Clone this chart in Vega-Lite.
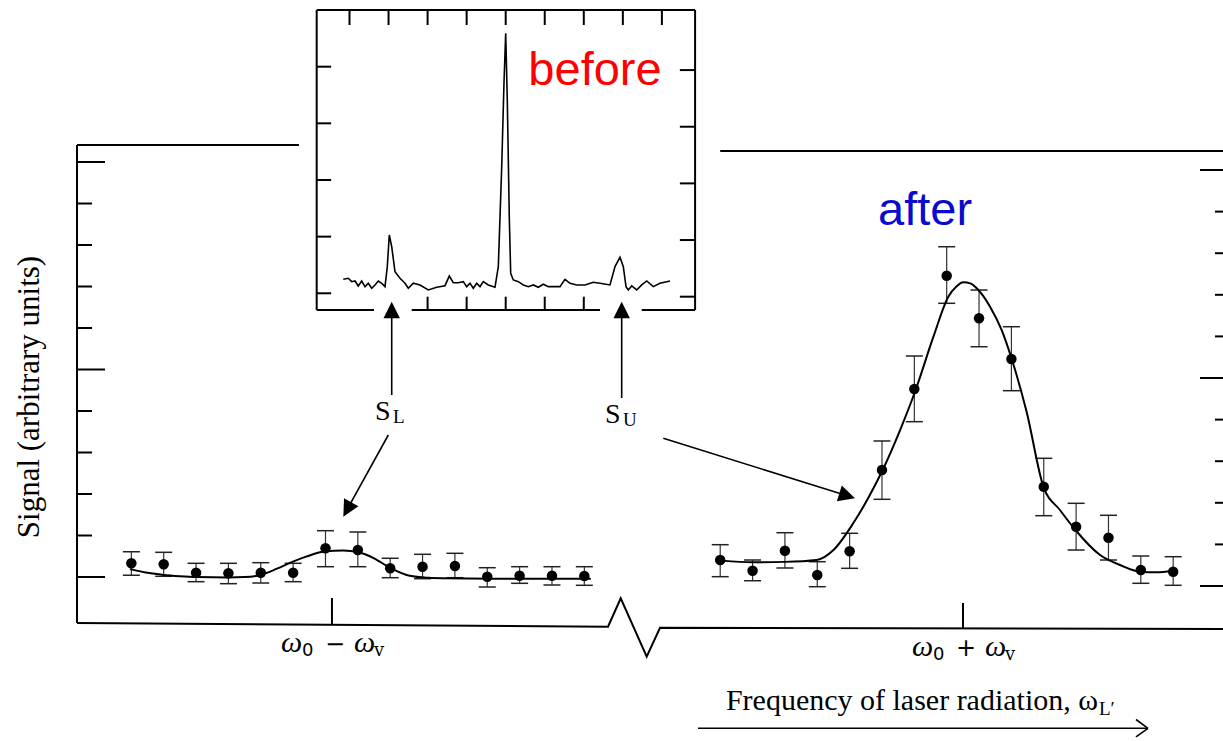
{
  "$schema": "https://vega.github.io/schema/vega-lite/v6.json",
  "width": 1223,
  "height": 741,
  "autosize": {"type": "none"},
  "padding": 0,
  "background": "white",
  "config": {"view": {"stroke": null}},
  "datasets": {
    "leftPoints": [
      {"x": -6.2, "y": 0.330, "hi": 0.610, "lo": 0.041},
      {"x": -5.2, "y": 0.306, "hi": 0.595, "lo": 0.017},
      {"x": -4.2, "y": 0.104, "hi": 0.330, "lo": -0.113},
      {"x": -3.2, "y": 0.089, "hi": 0.330, "lo": -0.161},
      {"x": -2.2, "y": 0.104, "hi": 0.345, "lo": -0.145},
      {"x": -1.2, "y": 0.104, "hi": 0.330, "lo": -0.113},
      {"x": -0.2, "y": 0.692, "hi": 1.116, "lo": 0.248},
      {"x": 0.8, "y": 0.651, "hi": 1.084, "lo": 0.248},
      {"x": 1.8, "y": 0.210, "hi": 0.451, "lo": -0.017},
      {"x": 2.8, "y": 0.248, "hi": 0.547, "lo": -0.041},
      {"x": 3.8, "y": 0.265, "hi": 0.571, "lo": -0.017},
      {"x": 4.8, "y": 0.007, "hi": 0.224, "lo": -0.241},
      {"x": 5.8, "y": 0.031, "hi": 0.248, "lo": -0.152},
      {"x": 6.8, "y": 0.031, "hi": 0.248, "lo": -0.193},
      {"x": 7.8, "y": 0.024, "hi": 0.248, "lo": -0.200}
    ],
    "rightPoints": [
      {"x": 12, "y": 0.625, "hi": 0.993, "lo": 0.224},
      {"x": 13, "y": 0.368, "hi": 0.625, "lo": 0.127},
      {"x": 14, "y": 0.849, "hi": 1.281, "lo": 0.433},
      {"x": 15, "y": 0.264, "hi": 0.584, "lo": -0.017},
      {"x": 16, "y": 0.834, "hi": 1.267, "lo": 0.425},
      {"x": 17, "y": 2.788, "hi": 3.486, "lo": 2.084},
      {"x": 18, "y": 4.736, "hi": 5.529, "lo": 3.950},
      {"x": 19, "y": 7.459, "hi": 8.156, "lo": 6.796},
      {"x": 20, "y": 6.435, "hi": 7.115, "lo": 5.752},
      {"x": 21, "y": 5.457, "hi": 6.233, "lo": 4.695},
      {"x": 22, "y": 2.387, "hi": 3.070, "lo": 1.690},
      {"x": 23, "y": 1.425, "hi": 1.988, "lo": 0.865},
      {"x": 24, "y": 1.161, "hi": 1.700, "lo": 0.625},
      {"x": 25, "y": 0.385, "hi": 0.721, "lo": 0.065},
      {"x": 26, "y": 0.344, "hi": 0.704, "lo": 0.017}
    ],
    "leftFit": [
      {"x": -6.24, "y": 0.19}, {"x": -5.7, "y": 0.10}, {"x": -5.2, "y": 0.05},
      {"x": -4.7, "y": 0.02}, {"x": -4.2, "y": 0.0}, {"x": -3.2, "y": -0.01},
      {"x": -2.7, "y": 0.0}, {"x": -2.2, "y": 0.05}, {"x": -1.7, "y": 0.20},
      {"x": -1.3, "y": 0.34}, {"x": -0.8, "y": 0.49}, {"x": -0.2, "y": 0.62},
      {"x": 0.35, "y": 0.64}, {"x": 0.8, "y": 0.60}, {"x": 1.3, "y": 0.45},
      {"x": 1.8, "y": 0.22}, {"x": 2.4, "y": 0.03}, {"x": 3.0, "y": -0.02},
      {"x": 3.4, "y": -0.03}, {"x": 5.0, "y": -0.04}, {"x": 8.0, "y": -0.04}
    ],
    "rightFit": [
      {"x": 12.05, "y": 0.61}, {"x": 13.0, "y": 0.57}, {"x": 14.0, "y": 0.58},
      {"x": 14.98, "y": 0.625}, {"x": 15.5, "y": 0.865}, {"x": 16.11, "y": 1.507},
      {"x": 16.6, "y": 2.15}, {"x": 17.02, "y": 2.788}, {"x": 17.56, "y": 3.75},
      {"x": 18.04, "y": 4.712}, {"x": 18.59, "y": 5.993}, {"x": 19.05, "y": 6.954},
      {"x": 19.3, "y": 7.2}, {"x": 19.51, "y": 7.30}, {"x": 19.75, "y": 7.27},
      {"x": 19.93, "y": 7.156}, {"x": 20.34, "y": 6.714}, {"x": 20.7, "y": 6.15},
      {"x": 21.01, "y": 5.457}, {"x": 21.47, "y": 4.19}, {"x": 21.99, "y": 2.387},
      {"x": 22.5, "y": 1.827}, {"x": 22.98, "y": 1.346}, {"x": 23.74, "y": 0.745},
      {"x": 24.36, "y": 0.505}, {"x": 24.98, "y": 0.344}, {"x": 25.5, "y": 0.33},
      {"x": 25.96, "y": 0.368}
    ],
    "insetTrace": [
      {"x": -4.159, "y": 0.247}, {"x": -4.031, "y": 0.265}, {"x": -3.944, "y": 0.205},
      {"x": -3.859, "y": 0.217}, {"x": -3.775, "y": 0.129}, {"x": -3.688, "y": 0.217},
      {"x": -3.603, "y": 0.117}, {"x": -3.518, "y": 0.177}, {"x": -3.432, "y": 0.088},
      {"x": -3.347, "y": 0.147}, {"x": -3.262, "y": 0.217}, {"x": -3.175, "y": 0.177},
      {"x": -3.091, "y": 0.117}, {"x": -3.032, "y": 0.470}, {"x": -2.981, "y": 1.029},
      {"x": -2.919, "y": 0.823}, {"x": -2.835, "y": 0.381}, {"x": -2.707, "y": 0.265},
      {"x": -2.579, "y": 0.177}, {"x": -2.494, "y": 0.088}, {"x": -2.366, "y": 0.177},
      {"x": -2.195, "y": 0.147}, {"x": -1.982, "y": 0.058}, {"x": -1.767, "y": 0.106},
      {"x": -1.554, "y": 0.134}, {"x": -1.444, "y": 0.305}, {"x": -1.342, "y": 0.187},
      {"x": -1.214, "y": 0.187}, {"x": -1.086, "y": 0.205}, {"x": -0.999, "y": 0.117},
      {"x": -0.914, "y": 0.177}, {"x": -0.830, "y": 0.088}, {"x": -0.743, "y": 0.177},
      {"x": -0.658, "y": 0.117}, {"x": -0.574, "y": 0.205}, {"x": -0.446, "y": 0.147},
      {"x": -0.274, "y": 0.106}, {"x": -0.189, "y": 0.470}, {"x": -0.102, "y": 2.235},
      {"x": -0.044, "y": 3.707}, {"x": 0.0, "y": 4.590}, {"x": 0.041, "y": 3.412},
      {"x": 0.092, "y": 1.352}, {"x": 0.128, "y": 0.353}, {"x": 0.195, "y": 0.235},
      {"x": 0.323, "y": 0.205}, {"x": 0.451, "y": 0.147}, {"x": 0.579, "y": 0.117},
      {"x": 0.707, "y": 0.147}, {"x": 0.835, "y": 0.106}, {"x": 0.963, "y": 0.159},
      {"x": 1.091, "y": 0.117}, {"x": 1.219, "y": 0.117}, {"x": 1.390, "y": 0.117},
      {"x": 1.519, "y": 0.247}, {"x": 1.647, "y": 0.177}, {"x": 1.818, "y": 0.147},
      {"x": 2.031, "y": 0.147}, {"x": 2.243, "y": 0.194}, {"x": 2.415, "y": 0.177},
      {"x": 2.671, "y": 0.147}, {"x": 2.799, "y": 0.470}, {"x": 2.927, "y": 0.635},
      {"x": 3.012, "y": 0.470}, {"x": 3.081, "y": 0.117}, {"x": 3.140, "y": 0.058},
      {"x": 3.227, "y": 0.129}, {"x": 3.355, "y": 0.058}, {"x": 3.483, "y": 0.147},
      {"x": 3.611, "y": 0.217}, {"x": 3.780, "y": 0.117}, {"x": 3.951, "y": 0.177},
      {"x": 4.207, "y": 0.217}
    ],
    "mainFrame": [
      {"x": -7.88, "y": -1.108, "x2": -7.88, "y2": 10.41},
      {"x": -7.88, "y": 10.41, "x2": -1.02, "y2": 10.41},
      {"x": -7.88, "y": 0, "x2": -7.015, "y2": 0},
      {"x": -7.88, "y": 1, "x2": -7.416, "y2": 1},
      {"x": -7.88, "y": 2, "x2": -7.416, "y2": 2},
      {"x": -7.88, "y": 3, "x2": -7.416, "y2": 3},
      {"x": -7.88, "y": 4, "x2": -7.416, "y2": 4},
      {"x": -7.88, "y": 5, "x2": -7.015, "y2": 5},
      {"x": -7.88, "y": 6, "x2": -7.416, "y2": 6},
      {"x": -7.88, "y": 7, "x2": -7.416, "y2": 7},
      {"x": -7.88, "y": 8, "x2": -7.416, "y2": 8},
      {"x": -7.88, "y": 9, "x2": -7.416, "y2": 9},
      {"x": -7.88, "y": 10, "x2": -7.015, "y2": 10},
      {"x": 0, "y": -1.14, "x2": 0, "y2": -0.506}
    ],
    "bottomAxis": [
      {"x": -7.88, "y": -1.108}, {"x": 8.532, "y": -1.198}, {"x": 8.925, "y": -0.513},
      {"x": 9.728, "y": -1.92}, {"x": 10.139, "y": -1.222}, {"x": 27.6, "y": -1.253}
    ],
    "arrows": [
      {"name": "SLv", "x": 1.847, "y": 4.386, "x2": 1.847, "y2": 6.5},
      {"name": "SUv", "x": 8.955, "y": 4.313, "x2": 8.955, "y2": 6.5},
      {"name": "SLd", "x": 1.742, "y": 3.422, "x2": 0.45, "y2": 1.6},
      {"name": "SUd", "x": 10.242, "y": 3.342, "x2": 16.0, "y2": 1.94},
      {"name": "freq", "x": 11.314, "y": -3.646, "x2": 25.222, "y2": -3.646},
      {"name": "freq", "x": 24.851, "y": -3.434, "x2": 25.222, "y2": -3.646},
      {"name": "freq", "x": 24.851, "y": -3.855, "x2": 25.222, "y2": -3.646}
    ],
    "heads": [
      {"name": "SLv", "x": 1.847, "y": 6.634},
      {"name": "SUv", "x": 8.955, "y": 6.634},
      {"name": "SLd", "x": 0.351, "y": 1.453},
      {"name": "SUd", "x": 16.166, "y": 1.896}
    ],
    "rightFrame": [
      {"x": 12.0, "y": 10.46, "x2": 27.6, "y2": 10.46},
      {"x": 27.6, "y": 0, "x2": 26.829, "y2": 0},
      {"x": 27.6, "y": 1, "x2": 27.293, "y2": 1},
      {"x": 27.6, "y": 2, "x2": 27.293, "y2": 2},
      {"x": 27.6, "y": 3, "x2": 27.293, "y2": 3},
      {"x": 27.6, "y": 4, "x2": 27.293, "y2": 4},
      {"x": 27.6, "y": 5, "x2": 26.829, "y2": 5},
      {"x": 27.6, "y": 6, "x2": 27.293, "y2": 6},
      {"x": 27.6, "y": 7, "x2": 27.293, "y2": 7},
      {"x": 27.6, "y": 8, "x2": 27.293, "y2": 8},
      {"x": 27.6, "y": 9, "x2": 27.293, "y2": 9},
      {"x": 27.6, "y": 10, "x2": 26.829, "y2": 10},
      {"x": 19.504, "y": -1.01, "x2": 19.504, "y2": -0.409}
    ],
    "insetFrame": [
      {"x": -4.84, "y": 5.0, "x2": 4.85, "y2": 5.0},
      {"x": -4.84, "y": -0.295, "x2": -4.84, "y2": 5.0},
      {"x": 4.85, "y": -0.295, "x2": 4.85, "y2": 5.0},
      {"x": -4.84, "y": -0.295, "x2": -3.373, "y2": -0.295},
      {"x": -2.407, "y": -0.295, "x2": 2.415, "y2": -0.295},
      {"x": 3.483, "y": -0.295, "x2": 4.85, "y2": -0.295},
      {"x": -4, "y": 5.0, "x2": -4, "y2": 4.736},
      {"x": -3, "y": 5.0, "x2": -3, "y2": 4.736},
      {"x": -2, "y": 5.0, "x2": -2, "y2": 4.736},
      {"x": -1, "y": 5.0, "x2": -1, "y2": 4.736},
      {"x": 0, "y": 5.0, "x2": 0, "y2": 4.736},
      {"x": 1, "y": 5.0, "x2": 1, "y2": 4.736},
      {"x": 2, "y": 5.0, "x2": 2, "y2": 4.736},
      {"x": 3, "y": 5.0, "x2": 3, "y2": 4.736},
      {"x": 4, "y": 5.0, "x2": 4, "y2": 4.736},
      {"x": -2, "y": -0.295, "x2": -2, "y2": -0.06},
      {"x": -1, "y": -0.295, "x2": -1, "y2": -0.06},
      {"x": 0, "y": -0.295, "x2": 0, "y2": -0.06},
      {"x": 1, "y": -0.295, "x2": 1, "y2": -0.06},
      {"x": 2, "y": -0.295, "x2": 2, "y2": -0.06},
      {"x": -4.84, "y": 0, "x2": -4.47, "y2": 0},
      {"x": -4.84, "y": 1, "x2": -4.47, "y2": 1},
      {"x": -4.84, "y": 2, "x2": -4.47, "y2": 2},
      {"x": -4.84, "y": 3, "x2": -4.47, "y2": 3},
      {"x": -4.84, "y": 4, "x2": -4.47, "y2": 4},
      {"x": 4.85, "y": -0.06, "x2": 4.46, "y2": -0.06},
      {"x": 4.85, "y": 0.94, "x2": 4.46, "y2": 0.94},
      {"x": 4.85, "y": 1.94, "x2": 4.46, "y2": 1.94},
      {"x": 4.85, "y": 2.94, "x2": 4.46, "y2": 2.94},
      {"x": 4.85, "y": 3.94, "x2": 4.46, "y2": 3.94}
    ],
    "sLabels": [
      {"main": "S", "sub": "L", "x": 1.33, "y": 3.783},
      {"main": "S", "sub": "U", "x": 8.439, "y": 3.718}
    ],
    "xLabels": [
      {"w": "ω", "s1": "0", "op": "−", "s2": "v", "x": 0, "y": -1.8},
      {"w": "ω", "s1": "0", "op": "+", "s2": "v", "x": 19.504, "y": -1.9}
    ],
    "xTitle": [
      {"text": "Frequency of laser radiation, ω", "sub": "L′", "x": 23.677, "y": -3.205}
    ],
    "yTitle": [
      {"text": "Signal (arbitrary units)", "x": -9.333, "y": 4.337}
    ],
    "tags": [
      {"text": "before", "x": 8.13, "y": 11.855},
      {"text": "after", "x": 18.33, "y": 8.482}
    ]
  },
  "layer": [
    {
      "layer": [
        {
          "data": {"name": "mainFrame"},
          "mark": {"type": "rule", "color": "black", "strokeWidth": 2},
          "encoding": {
            "x": {"field": "x", "type": "quantitative", "scale": {"domain": [-10.26, 27.54]}, "axis": null},
            "y": {"field": "y", "type": "quantitative", "scale": {"domain": [-3.952, 13.904]}, "axis": null},
            "x2": {"field": "x2"},
            "y2": {"field": "y2"}
          }
        },
        {
          "data": {"name": "bottomAxis"},
          "mark": {"type": "line", "color": "black", "strokeWidth": 2},
          "encoding": {
            "x": {"field": "x", "type": "quantitative", "scale": {"domain": [-10.26, 27.54]}, "axis": null},
            "y": {"field": "y", "type": "quantitative", "scale": {"domain": [-3.952, 13.904]}, "axis": null}
          }
        },
        {
          "data": {"name": "arrows"},
          "mark": {"type": "rule", "color": "black", "strokeWidth": 1.6},
          "encoding": {
            "x": {"field": "x", "type": "quantitative", "scale": {"domain": [-10.26, 27.54]}, "axis": null},
            "y": {"field": "y", "type": "quantitative", "scale": {"domain": [-3.952, 13.904]}, "axis": null},
            "x2": {"field": "x2"},
            "y2": {"field": "y2"}
          }
        },
        {
          "data": {"name": "heads"},
          "transform": [{"filter": "datum.name === 'SLv' || datum.name === 'SUv'"}],
          "mark": {"type": "point", "shape": "M0,0L-1,2L1,2Z", "filled": true, "size": 270, "color": "black", "opacity": 1, "angle": 0},
          "encoding": {
            "x": {"field": "x", "type": "quantitative", "scale": {"domain": [-10.26, 27.54]}, "axis": null},
            "y": {"field": "y", "type": "quantitative", "scale": {"domain": [-3.952, 13.904]}, "axis": null}
          }
        },
        {
          "data": {"name": "heads"},
          "transform": [{"filter": "datum.name === 'SLd'"}],
          "mark": {"type": "point", "shape": "M0,0L-1,2L1,2Z", "filled": true, "size": 270, "color": "black", "opacity": 1, "angle": 208.8},
          "encoding": {
            "x": {"field": "x", "type": "quantitative", "scale": {"domain": [-10.26, 27.54]}, "axis": null},
            "y": {"field": "y", "type": "quantitative", "scale": {"domain": [-3.952, 13.904]}, "axis": null}
          }
        },
        {
          "data": {"name": "heads"},
          "transform": [{"filter": "datum.name === 'SUd'"}],
          "mark": {"type": "point", "shape": "M0,0L-1,2L1,2Z", "filled": true, "size": 270, "color": "black", "opacity": 1, "angle": 107.4},
          "encoding": {
            "x": {"field": "x", "type": "quantitative", "scale": {"domain": [-10.26, 27.54]}, "axis": null},
            "y": {"field": "y", "type": "quantitative", "scale": {"domain": [-3.952, 13.904]}, "axis": null}
          }
        },
        {
          "data": {"name": "leftPoints"},
          "mark": {"type": "rule", "color": "#333333", "strokeWidth": 1.2},
          "encoding": {
            "x": {"field": "x", "type": "quantitative", "scale": {"domain": [-10.26, 27.54]}, "axis": null},
            "y": {"field": "lo", "type": "quantitative", "scale": {"domain": [-3.952, 13.904]}, "axis": null},
            "y2": {"field": "hi"}
          }
        },
        {
          "data": {"name": "leftPoints"},
          "mark": {"type": "tick", "orient": "horizontal", "size": 17, "thickness": 1.5, "color": "#222222", "opacity": 1},
          "encoding": {
            "x": {"field": "x", "type": "quantitative", "scale": {"domain": [-10.26, 27.54]}, "axis": null},
            "y": {"field": "lo", "type": "quantitative", "scale": {"domain": [-3.952, 13.904]}, "axis": null}
          }
        },
        {
          "data": {"name": "leftPoints"},
          "mark": {"type": "tick", "orient": "horizontal", "size": 17, "thickness": 1.5, "color": "#222222", "opacity": 1},
          "encoding": {
            "x": {"field": "x", "type": "quantitative", "scale": {"domain": [-10.26, 27.54]}, "axis": null},
            "y": {"field": "hi", "type": "quantitative", "scale": {"domain": [-3.952, 13.904]}, "axis": null}
          }
        },
        {
          "data": {"name": "leftFit"},
          "mark": {"type": "line", "color": "black", "strokeWidth": 2, "interpolate": "monotone"},
          "encoding": {
            "x": {"field": "x", "type": "quantitative", "scale": {"domain": [-10.26, 27.54]}, "axis": null},
            "y": {"field": "y", "type": "quantitative", "scale": {"domain": [-3.952, 13.904]}, "axis": null}
          }
        },
        {
          "data": {"name": "leftPoints"},
          "mark": {"type": "circle", "color": "black", "size": 110, "opacity": 1},
          "encoding": {
            "x": {"field": "x", "type": "quantitative", "scale": {"domain": [-10.26, 27.54]}, "axis": null},
            "y": {"field": "y", "type": "quantitative", "scale": {"domain": [-3.952, 13.904]}, "axis": null}
          }
        },
        {
          "data": {"name": "sLabels"},
          "mark": {"type": "text", "font": "Liberation Serif", "fontSize": 28, "align": "left", "baseline": "alphabetic", "color": "black"},
          "encoding": {
            "x": {"field": "x", "type": "quantitative", "scale": {"domain": [-10.26, 27.54]}, "axis": null},
            "y": {"field": "y", "type": "quantitative", "scale": {"domain": [-3.952, 13.904]}, "axis": null},
            "text": {"field": "main"}
          }
        },
        {
          "data": {"name": "sLabels"},
          "mark": {"type": "text", "font": "Liberation Serif", "fontSize": 19, "align": "left", "baseline": "alphabetic", "color": "black", "dx": 18, "dy": 3},
          "encoding": {
            "x": {"field": "x", "type": "quantitative", "scale": {"domain": [-10.26, 27.54]}, "axis": null},
            "y": {"field": "y", "type": "quantitative", "scale": {"domain": [-3.952, 13.904]}, "axis": null},
            "text": {"field": "sub"}
          }
        },
        {
          "data": {"name": "xLabels"},
          "mark": {"type": "text", "font": "Liberation Serif", "fontStyle": "italic", "fontSize": 30, "align": "left", "baseline": "alphabetic", "color": "black", "dx": -51},
          "encoding": {
            "x": {"field": "x", "type": "quantitative", "scale": {"domain": [-10.26, 27.54]}, "axis": null},
            "y": {"field": "y", "type": "quantitative", "scale": {"domain": [-3.952, 13.904]}, "axis": null},
            "text": {"field": "w"}
          }
        },
        {
          "data": {"name": "xLabels"},
          "mark": {"type": "text", "font": "Liberation Serif", "fontStyle": "italic", "fontSize": 30, "align": "left", "baseline": "alphabetic", "color": "black", "dx": 22},
          "encoding": {
            "x": {"field": "x", "type": "quantitative", "scale": {"domain": [-10.26, 27.54]}, "axis": null},
            "y": {"field": "y", "type": "quantitative", "scale": {"domain": [-3.952, 13.904]}, "axis": null},
            "text": {"field": "w"}
          }
        },
        {
          "data": {"name": "xLabels"},
          "mark": {"type": "text", "font": "DejaVu Sans", "fontSize": 18, "align": "left", "baseline": "alphabetic", "color": "black", "dx": -30, "dy": 4},
          "encoding": {
            "x": {"field": "x", "type": "quantitative", "scale": {"domain": [-10.26, 27.54]}, "axis": null},
            "y": {"field": "y", "type": "quantitative", "scale": {"domain": [-3.952, 13.904]}, "axis": null},
            "text": {"field": "s1"}
          }
        },
        {
          "data": {"name": "xLabels"},
          "mark": {"type": "text", "font": "DejaVu Serif", "fontSize": 18, "align": "left", "baseline": "alphabetic", "color": "black", "dx": 42, "dy": 4},
          "encoding": {
            "x": {"field": "x", "type": "quantitative", "scale": {"domain": [-10.26, 27.54]}, "axis": null},
            "y": {"field": "y", "type": "quantitative", "scale": {"domain": [-3.952, 13.904]}, "axis": null},
            "text": {"field": "s2"}
          }
        },
        {
          "data": {"name": "xLabels"},
          "mark": {"type": "text", "font": "DejaVu Sans", "fontSize": 24, "align": "center", "baseline": "alphabetic", "color": "black", "dx": 3},
          "encoding": {
            "x": {"field": "x", "type": "quantitative", "scale": {"domain": [-10.26, 27.54]}, "axis": null},
            "y": {"field": "y", "type": "quantitative", "scale": {"domain": [-3.952, 13.904]}, "axis": null},
            "text": {"field": "op"}
          }
        },
        {
          "data": {"name": "xTitle"},
          "mark": {"type": "text", "font": "Liberation Serif", "fontSize": 30, "align": "right", "baseline": "alphabetic", "color": "black"},
          "encoding": {
            "x": {"field": "x", "type": "quantitative", "scale": {"domain": [-10.26, 27.54]}, "axis": null},
            "y": {"field": "y", "type": "quantitative", "scale": {"domain": [-3.952, 13.904]}, "axis": null},
            "text": {"field": "text"}
          }
        },
        {
          "data": {"name": "xTitle"},
          "mark": {"type": "text", "font": "Liberation Serif", "fontSize": 19, "align": "left", "baseline": "alphabetic", "color": "black", "dx": 1, "dy": 5},
          "encoding": {
            "x": {"field": "x", "type": "quantitative", "scale": {"domain": [-10.26, 27.54]}, "axis": null},
            "y": {"field": "y", "type": "quantitative", "scale": {"domain": [-3.952, 13.904]}, "axis": null},
            "text": {"field": "sub"}
          }
        },
        {
          "data": {"name": "yTitle"},
          "mark": {"type": "text", "font": "Liberation Serif", "fontSize": 31, "align": "center", "baseline": "middle", "angle": 270, "color": "black"},
          "encoding": {
            "x": {"field": "x", "type": "quantitative", "scale": {"domain": [-10.26, 27.54]}, "axis": null},
            "y": {"field": "y", "type": "quantitative", "scale": {"domain": [-3.952, 13.904]}, "axis": null},
            "text": {"field": "text"}
          }
        },
        {
          "data": {"name": "tags"},
          "transform": [{"filter": "datum.text === 'before'"}],
          "mark": {"type": "text", "font": "Liberation Sans", "fontSize": 47, "align": "center", "baseline": "alphabetic", "color": "#ff0000"},
          "encoding": {
            "x": {"field": "x", "type": "quantitative", "scale": {"domain": [-10.26, 27.54]}, "axis": null},
            "y": {"field": "y", "type": "quantitative", "scale": {"domain": [-3.952, 13.904]}, "axis": null},
            "text": {"field": "text"}
          }
        },
        {
          "data": {"name": "tags"},
          "transform": [{"filter": "datum.text === 'after'"}],
          "mark": {"type": "text", "font": "Liberation Sans", "fontSize": 47, "align": "center", "baseline": "alphabetic", "color": "#0a0acd"},
          "encoding": {
            "x": {"field": "x", "type": "quantitative", "scale": {"domain": [-10.26, 27.54]}, "axis": null},
            "y": {"field": "y", "type": "quantitative", "scale": {"domain": [-3.952, 13.904]}, "axis": null},
            "text": {"field": "text"}
          }
        }
      ]
    },
    {
      "layer": [
        {
          "data": {"name": "rightFrame"},
          "mark": {"type": "rule", "color": "black", "strokeWidth": 2},
          "encoding": {
            "x": {"field": "x", "type": "quantitative", "scale": {"domain": [-10.26, 27.54]}, "axis": null},
            "y": {"field": "y", "type": "quantitative", "scale": {"domain": [-3.726, 14.087]}, "axis": null},
            "x2": {"field": "x2"},
            "y2": {"field": "y2"}
          }
        },
        {
          "data": {"name": "rightPoints"},
          "mark": {"type": "rule", "color": "#333333", "strokeWidth": 1.2},
          "encoding": {
            "x": {"field": "x", "type": "quantitative", "scale": {"domain": [-10.26, 27.54]}, "axis": null},
            "y": {"field": "lo", "type": "quantitative", "scale": {"domain": [-3.726, 14.087]}, "axis": null},
            "y2": {"field": "hi"}
          }
        },
        {
          "data": {"name": "rightPoints"},
          "mark": {"type": "tick", "orient": "horizontal", "size": 17, "thickness": 1.5, "color": "#222222", "opacity": 1},
          "encoding": {
            "x": {"field": "x", "type": "quantitative", "scale": {"domain": [-10.26, 27.54]}, "axis": null},
            "y": {"field": "lo", "type": "quantitative", "scale": {"domain": [-3.726, 14.087]}, "axis": null}
          }
        },
        {
          "data": {"name": "rightPoints"},
          "mark": {"type": "tick", "orient": "horizontal", "size": 17, "thickness": 1.5, "color": "#222222", "opacity": 1},
          "encoding": {
            "x": {"field": "x", "type": "quantitative", "scale": {"domain": [-10.26, 27.54]}, "axis": null},
            "y": {"field": "hi", "type": "quantitative", "scale": {"domain": [-3.726, 14.087]}, "axis": null}
          }
        },
        {
          "data": {"name": "rightFit"},
          "mark": {"type": "line", "color": "black", "strokeWidth": 2, "interpolate": "monotone"},
          "encoding": {
            "x": {"field": "x", "type": "quantitative", "scale": {"domain": [-10.26, 27.54]}, "axis": null},
            "y": {"field": "y", "type": "quantitative", "scale": {"domain": [-3.726, 14.087]}, "axis": null}
          }
        },
        {
          "data": {"name": "rightPoints"},
          "mark": {"type": "circle", "color": "black", "size": 110, "opacity": 1},
          "encoding": {
            "x": {"field": "x", "type": "quantitative", "scale": {"domain": [-10.26, 27.54]}, "axis": null},
            "y": {"field": "y", "type": "quantitative", "scale": {"domain": [-3.726, 14.087]}, "axis": null}
          }
        }
      ]
    },
    {
      "layer": [
        {
          "data": {"name": "insetFrame"},
          "mark": {"type": "rule", "color": "black", "strokeWidth": 2},
          "encoding": {
            "x": {"field": "x", "type": "quantitative", "scale": {"domain": [-12.95, 18.369]}, "axis": null},
            "y": {"field": "y", "type": "quantitative", "scale": {"domain": [-7.903, 5.177]}, "axis": null},
            "x2": {"field": "x2"},
            "y2": {"field": "y2"}
          }
        },
        {
          "data": {"name": "insetTrace"},
          "mark": {"type": "line", "color": "black", "strokeWidth": 1.6},
          "encoding": {
            "x": {"field": "x", "type": "quantitative", "scale": {"domain": [-12.95, 18.369]}, "axis": null},
            "y": {"field": "y", "type": "quantitative", "scale": {"domain": [-7.903, 5.177]}, "axis": null}
          }
        }
      ]
    }
  ],
  "resolve": {"scale": {"x": "independent", "y": "independent"}}
}
